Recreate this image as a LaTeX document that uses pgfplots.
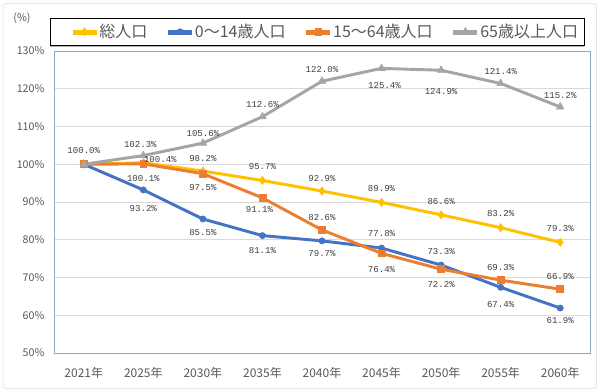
\documentclass[border=0pt]{standalone}
\usepackage{fontspec}
\setmainfont{Noto Sans CJK JP}
\newfontfamily\labfont{Liberation Mono}
\usepackage{pgfplots}
\pgfplotsset{compat=1.18}
\usepackage{pgfplotstable}
\usetikzlibrary{shadows}
\definecolor{cTot}{HTML}{FFC000}
\definecolor{cYoung}{HTML}{4472C4}
\definecolor{cWork}{HTML}{ED7D31}
\definecolor{cOld}{HTML}{A5A5A5}
\definecolor{txt}{HTML}{595959}
\definecolor{labtxt}{HTML}{404040}
\definecolor{frame}{RGB}{143,170,200}
\definecolor{gridc}{HTML}{D9D9D9}
\definecolor{outer}{HTML}{D9D9D9}

\pgfplotstableread{
x y dx dy
0 100.0 0 0
1 100.4 17 3
2 98.2 0 13
3 95.7 0 14
4 92.9 0 13
5 89.9 0 14
6 86.6 0 13
7 83.2 0 14
8 79.3 0 14
}\tot
\pgfplotstableread{
x y dx dy
0 100.0 0 0
1 93.2 0 -19
2 85.5 0 -14
3 81.1 0 -15
4 79.7 0 -13
5 77.8 0 15
6 73.3 0 14
7 67.4 0 -17
8 61.9 0 -12
}\young
\pgfplotstableread{
x y dx dy
0 100.0 0 0
1 100.1 0 -15
2 97.5 0 -14
3 91.1 -3 -12
4 82.6 0 12
5 76.4 0 -16
6 72.2 0 -15
7 69.3 0 13
8 66.9 0 13
}\work
\pgfplotstableread{
x y dx dy
0 100.0 0 14
1 102.3 -3 11
2 105.6 0 10
3 112.6 0 12
4 122.0 0 12
5 125.4 3 -17
6 124.9 0 -21
7 121.4 0 12
8 115.2 0 11
}\old

\pgfplotsset{labelplot/.style={draw=none, mark=none, forget plot,
  visualization depends on={\thisrow{dx}\as\dx},
  visualization depends on={\thisrow{dy}\as\dy},
  nodes near coords={\pgfmathprintnumber[fixed,fixed zerofill,precision=1]{\pgfplotspointmeta}\%},
  nodes near coords style={anchor=center, inner sep=0pt, xshift={0.75pt*\dx}, yshift={0.75pt*\dy},
    font=\labfont\fontsize{6.8}{8}\selectfont, text=labtxt}}}

\begin{document}
\begin{tikzpicture}
\useasboundingbox (0pt,0pt) rectangle (450pt,294pt);
\draw[draw=outer, fill=white, rounded corners=1.5pt] (2.4pt,2.6pt) rectangle (447.2pt,291.4pt);
\node[text=txt, font=\fontsize{8}{9}\selectfont] at (16.5pt,280.5pt) {(\%)};
\begin{axis}[
  at={(40.5pt,29.25pt)}, anchor=south west,
  scale only axis, width=402pt, height=226.5pt,
  xmin=-0.5, xmax=8.5, ymin=50, ymax=130,
  ytick={50,60,...,130},
  xtick={0,...,8},
  xticklabels={2021年,2025年,2030年,2035年,2040年,2045年,2050年,2055年,2060年},
  /pgf/number format/assume math mode=true,
  yticklabel={\pgfmathprintnumber{\tick}\%},
  ymajorgrids, grid style={gridc, line width=0.6pt},
  axis line style={frame, line width=0.6pt},
  major tick style={draw=none},
  yticklabel style={font=\fontsize{8}{9}\selectfont, text=txt, anchor=east, inner sep=0pt, xshift=-7pt},
  xticklabel style={font=\fontsize{9}{10}\selectfont, text=txt, anchor=center, inner sep=0pt, yshift=-15pt},
  legend columns=4,
  legend style={at={(-0.0075,1.109)}, anchor=north west, draw=black, line width=0.6pt,
    font=\fontsize{12}{13.5}\selectfont, text=txt,
    drop shadow={shadow xshift=0pt, shadow yshift=-1.2pt, fill=gray!60, opacity=1},
    inner xsep=3.5pt, inner ysep=2.2pt,
    nodes={inner xsep=1pt},
    /tikz/every even column/.append style={column sep=1.5pt}},
  legend image code/.code={\path (-12pt,0pt); \draw[mark repeat=2,mark phase=2] plot coordinates {(0pt,0pt) (9pt,0pt) (18pt,0pt)};},
  every axis plot/.append style={line width=2.2pt},
]
\addplot[cTot, mark=diamond*, mark size=3pt, mark options={solid, fill=cTot, line width=0.5pt}] table[x=x,y=y] {\tot};
\addlegendentry{総人口}
\addplot[cYoung, mark=*, mark size=2.3pt, mark options={solid, fill=cYoung, line width=0.5pt}] table[x=x,y=y] {\young};
\addlegendentry{0〜14歳人口}
\addplot[cWork, mark=square*, mark size=2.6pt, mark options={solid, fill=cWork, line width=0.5pt}] table[x=x,y=y] {\work};
\addlegendentry{15〜64歳人口}
\addplot[cOld, mark=triangle*, mark size=3.2pt, mark options={solid, fill=cOld, line width=0.5pt}] table[x=x,y=y] {\old};
\addlegendentry{65歳以上人口}

\addplot[labelplot, skip coords between index={0}{1}] table[x=x,y=y] {\tot};
\addplot[labelplot, skip coords between index={0}{1}] table[x=x,y=y] {\young};
\addplot[labelplot, skip coords between index={0}{1}] table[x=x,y=y] {\work};
\addplot[labelplot] table[x=x,y=y] {\old};
\end{axis}
\end{tikzpicture}
\end{document}
